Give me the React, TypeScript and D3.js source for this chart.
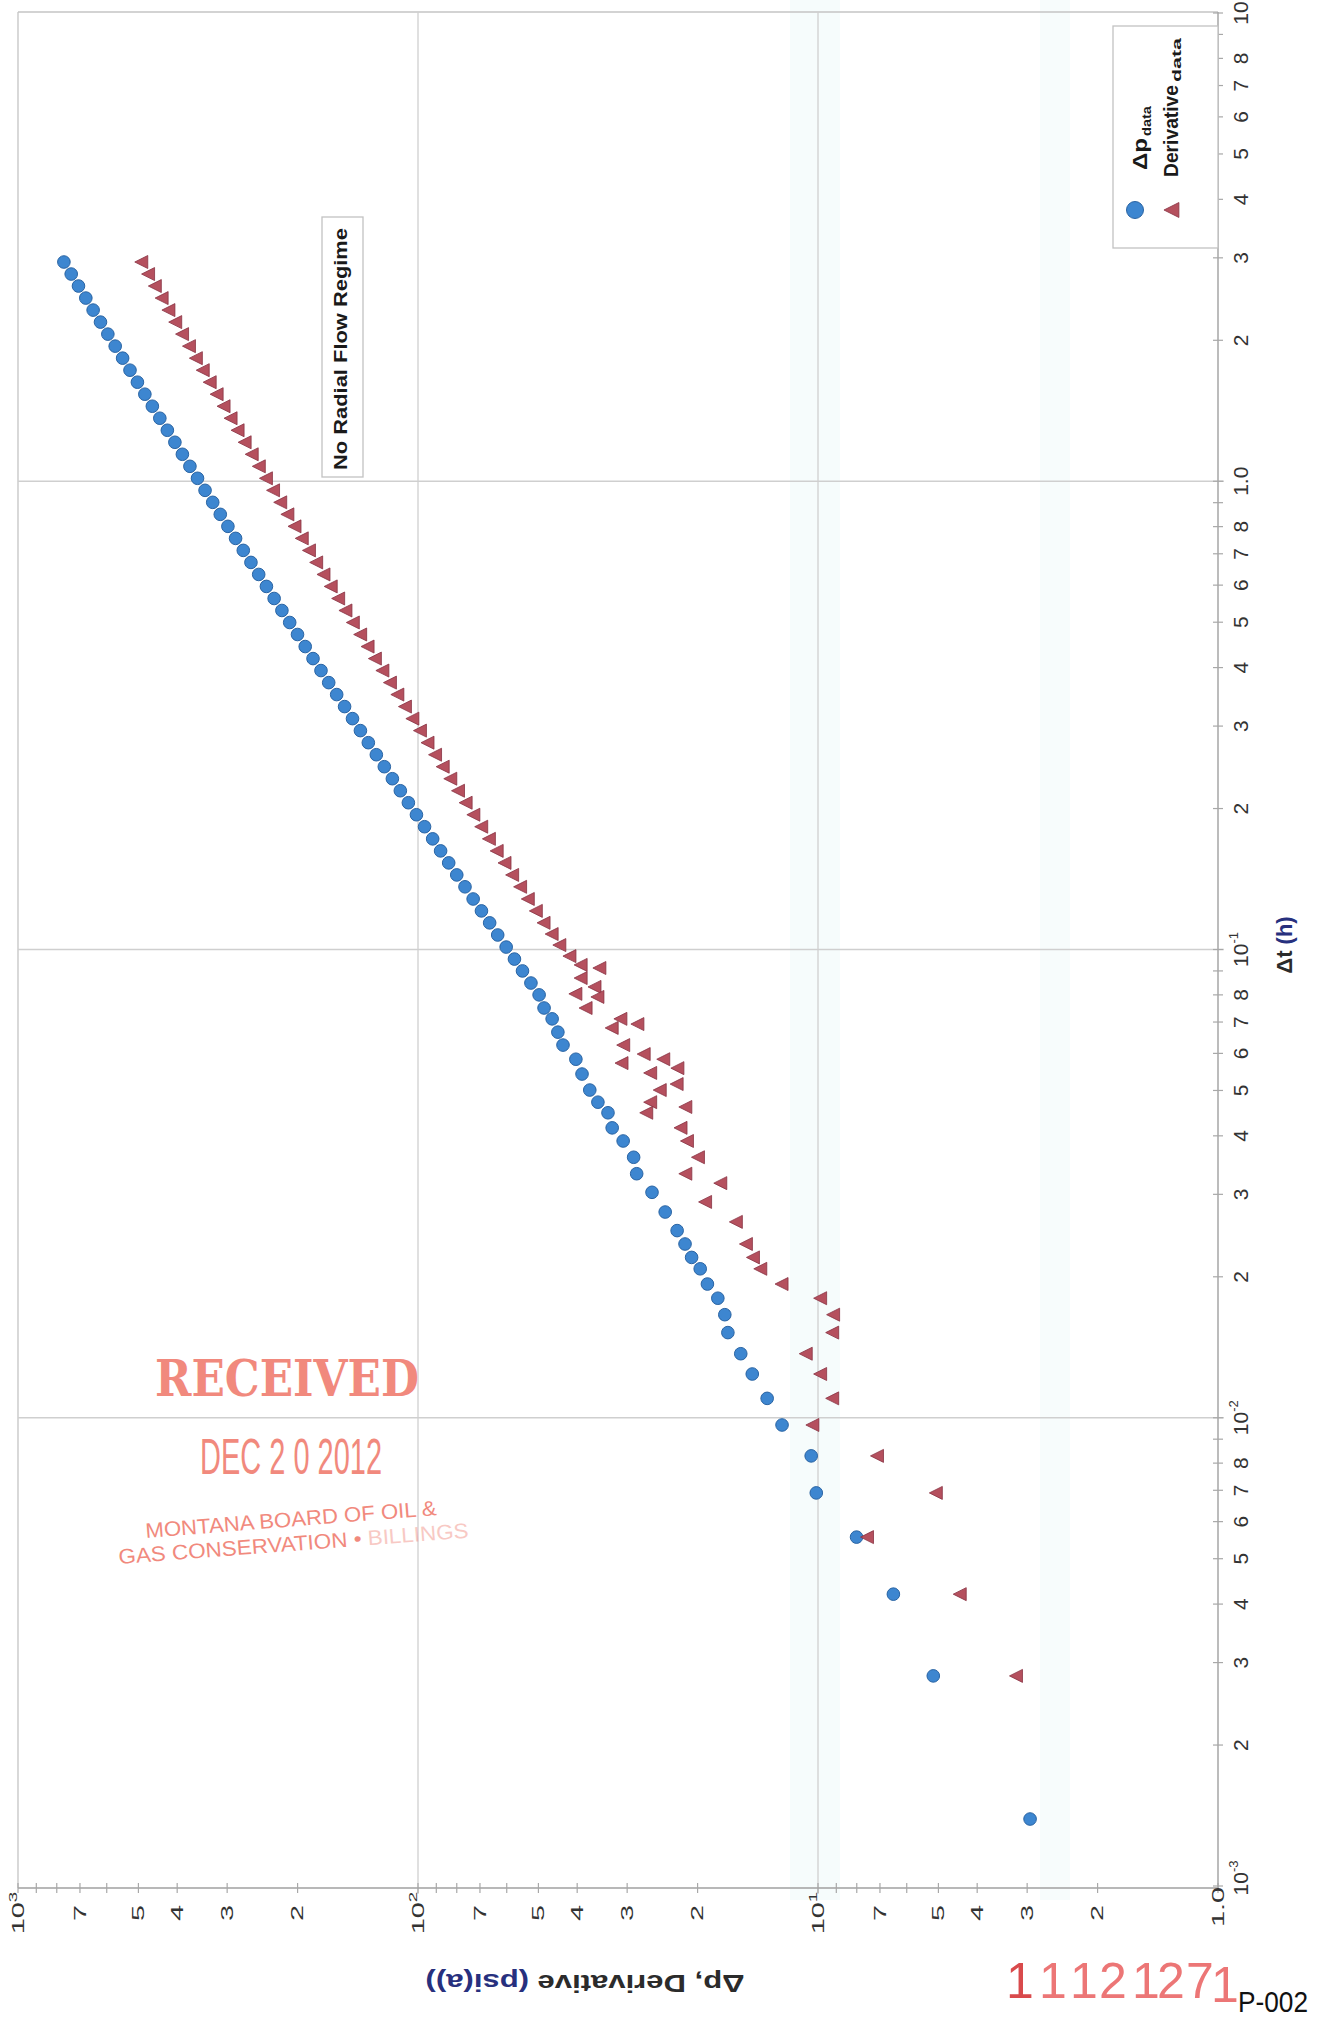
import React from "react";
import * as d3 from "d3";

// ---------- data ----------
// Δp data: elapsed time (h) and pressure change (psi)
const dpTime = [
  0.00139, 0.00281, 0.0042, 0.00556, 0.00691, 0.00829, 0.00965, 0.011, 0.0124, 0.0137,
  0.0152, 0.0166, 0.018, 0.0193, 0.0208, 0.022, 0.0235, 0.0251, 0.0275, 0.0303,
  0.0332, 0.036, 0.039, 0.0416, 0.0448, 0.0472, 0.0501, 0.0542, 0.0583, 0.0625,
  0.0666, 0.0711, 0.075,
  0.08, 0.0848, 0.09, 0.0954, 0.1012, 0.1074,
  0.114, 0.1209, 0.1282, 0.1361, 0.1443, 0.1531, 0.1624, 0.1723, 0.1829, 0.194,
  0.2058, 0.2183, 0.2316, 0.2457, 0.2606, 0.2765, 0.2934, 0.3112, 0.3302, 0.3503,
  0.3715, 0.3942, 0.4181, 0.4436, 0.4707, 0.4993, 0.5297, 0.5619, 0.5962, 0.6324,
  0.6709, 0.7118, 0.7551, 0.8011, 0.8498, 0.9015, 0.9563, 1.0146, 1.0762, 1.1418,
  1.2113, 1.285, 1.3633, 1.4462, 1.5343, 1.6276, 1.7266, 1.8318, 1.9434, 2.0616,
  2.1871, 2.3202, 2.4615, 2.6115, 2.7701, 2.939,
];
const dpValue = [
  2.95, 5.15, 6.48, 8.01, 10.1, 10.4, 12.3, 13.4, 14.6, 15.6,
  16.8, 17.1, 17.8, 18.9, 19.7, 20.7, 21.5, 22.5, 24.1, 26.0,
  28.4, 28.9, 30.7, 32.7, 33.5, 35.5, 37.2, 38.9, 40.3, 43.4,
  44.7, 46.2, 48.4,
  49.8, 52.2, 54.8, 57.4, 60.2, 63.2,
  66.2, 69.4, 72.8, 76.3, 80.0, 83.8, 87.8, 91.9, 96.3, 100.9,
  105.7, 110.7, 115.9, 121.4, 127.1, 133.1, 139.3, 145.8, 152.6, 159.7,
  167.2, 174.8, 183.0, 191.4, 200.1, 209.3, 218.9, 228.9, 239.3, 250.2,
  261.6, 273.4, 285.8, 298.7, 312.1, 326.0, 340.7, 355.8, 371.7, 388.2,
  405.3, 423.3, 442.0, 461.5, 481.8, 502.9, 524.8, 547.6, 571.5, 596.2,
  622.0, 648.9, 676.8, 706.0, 736.2, 767.8,
];

// Derivative data: elapsed time (h) and derivative (psi)
const derTime = [
  0.1079, 0.1022, 0.0968, 0.0927, 0.0913, 0.0869, 0.0832, 0.0804, 0.0792, 0.075,
  0.0711, 0.068, 0.0693, 0.0625, 0.0572, 0.0598, 0.0583, 0.0558, 0.0545, 0.0516,
  0.0501, 0.0472, 0.0461, 0.0448, 0.0416, 0.039, 0.036, 0.0332, 0.0317, 0.0289,
  0.0262, 0.0235, 0.022, 0.0208, 0.0193, 0.018, 0.0166, 0.0152, 0.0137, 0.0124,
  0.011, 0.00965, 0.00829, 0.00691, 0.00556, 0.0042, 0.00281,
  0.114, 0.1209, 0.1282, 0.1361, 0.1443, 0.1531, 0.1624, 0.1723, 0.1829, 0.194,
  0.2058, 0.2183, 0.2316, 0.2457, 0.2606, 0.2765, 0.2934, 0.3112, 0.3302, 0.3503,
  0.3715, 0.3942, 0.4181, 0.4436, 0.4707, 0.4993, 0.5297, 0.5619, 0.5962, 0.6324,
  0.6709, 0.7118, 0.7551, 0.8011, 0.8498, 0.9015, 0.9563, 1.0146, 1.0762, 1.1418,
  1.2113, 1.285, 1.3633, 1.4462, 1.5343, 1.6276, 1.7266, 1.8318, 1.9434, 2.0616,
  2.1871, 2.3202, 2.4615, 2.6115, 2.7701, 2.939,
];
const derValue = [
  46.2, 44.2, 41.7, 39.1, 35.1, 39.1, 36.1, 40.3, 35.5, 38.0,
  31.1, 32.7, 28.2, 30.6, 30.9, 27.2, 24.3, 22.4, 26.2, 22.5,
  24.8, 26.2, 21.4, 26.8, 22.0, 21.2, 19.9, 21.4, 17.5, 19.1,
  16.0, 15.1, 14.5, 13.9, 12.3, 9.85, 9.14, 9.19, 10.7, 9.85,
  9.19, 10.3, 7.1, 5.06, 7.52, 4.41, 3.19,
  48.4, 50.6, 53.0, 55.4, 58.0, 60.6, 63.4, 66.3, 69.3, 72.5,
  75.8, 79.2, 82.8, 86.5, 90.4, 94.4, 98.6, 103.0, 107.5, 112.3,
  117.2, 122.4, 127.8, 133.3, 139.1, 145.1, 151.4, 157.9, 164.8, 171.8,
  179.2, 186.8, 194.7, 203.0, 211.5, 220.4, 229.7, 239.3, 249.3, 259.7,
  270.5, 281.7, 293.3, 305.4, 317.8, 330.8, 344.3, 358.2, 372.7, 387.8,
  403.4, 419.5, 436.2, 453.6, 471.6, 490.4,
];

// tick labels: [value, main text, superscript]
const dpTickLabels: [number, string, string][] = [
  [1000, "10", "3"], [700, "7", ""], [500, "5", ""], [400, "4", ""], [300, "3", ""], [200, "2", ""],
  [100, "10", "2"], [70, "7", ""], [50, "5", ""], [40, "4", ""], [30, "3", ""], [20, "2", ""],
  [10, "10", "1"], [7, "7", ""], [5, "5", ""], [4, "4", ""], [3, "3", ""], [2, "2", ""],
  [1, "1.0", ""],
];
const dtTickLabels: [number, string, string][] = [
  [10, "10", ""], [8, "8", ""], [7, "7", ""], [6, "6", ""], [5, "5", ""], [4, "4", ""], [3, "3", ""], [2, "2", ""],
  [1, "1.0", ""], [0.8, "8", ""], [0.7, "7", ""], [0.6, "6", ""], [0.5, "5", ""], [0.4, "4", ""], [0.3, "3", ""], [0.2, "2", ""],
  [0.1, "10", "-1"], [0.08, "8", ""], [0.07, "7", ""], [0.06, "6", ""], [0.05, "5", ""], [0.04, "4", ""], [0.03, "3", ""], [0.02, "2", ""],
  [0.01, "10", "-2"], [0.008, "8", ""], [0.007, "7", ""], [0.006, "6", ""], [0.005, "5", ""], [0.004, "4", ""], [0.003, "3", ""], [0.002, "2", ""],
  [0.001, "10", "-3"],
];
const dpGrid = [100, 10];
const dtGrid = [1, 0.1, 0.01];

const legendItems = ["Δp", "Derivative"];
const docNumber = "11121271";

// ---------- layout ----------
const W = 1319;
const H = 2021;
const PX0 = 18;
const PX1 = 1218;
const PY0 = 1886;
const PY1 = 13;
const FONT = "'Liberation Sans', Arial, Helvetica, sans-serif";
const NARROW = "'Liberation Sans Narrow', 'Liberation Sans', sans-serif";

const BLUE = "#3d86d0";
const BLUE_EDGE = "#2a64a3";
const RED = "#b5505e";
const RED_EDGE = "#883243";
const STAMP = "#f07d70";

export default function App() {
  const x = d3.scaleLog().domain([1000, 1]).range([PX0, PX1]);
  const y = d3.scaleLog().domain([0.001, 10]).range([PY0, PY1]);
  const xTicks = x.ticks();
  const yTicks = y.ticks();
  const tri = (cx: number, cy: number, s = 1) =>
    `M${cx - 7 * s},${cy} L${cx + 6 * s},${cy - 6.5 * s} L${cx + 6 * s},${cy + 6.5 * s} Z`;

  const axisY = 1888;
  const axisX = PX1;
  const docX = [1006, 1039, 1070, 1099, 1132, 1157, 1186, 1211];

  return (
    <svg
      width={W}
      height={H}
      viewBox={`0 0 ${W} ${H}`}
      style={{ position: "absolute", left: 0, top: 0, background: "#ffffff" }}
      fontFamily={FONT}
    >
      <rect x={0} y={0} width={W} height={H} fill="#ffffff" />
      {/* faint scan bands */}
      <rect x={790} y={0} width={50} height={1900} fill="#f6fcfc" />
      <rect x={1040} y={0} width={30} height={1900} fill="#f7fcfc" />

      {/* frame */}
      <line x1={PX0} y1={12} x2={PX1} y2={12} stroke="#c4c4c4" strokeWidth={1.3} />
      <line x1={PX0} y1={12} x2={PX0} y2={axisY} stroke="#c4c4c4" strokeWidth={1.3} />

      {/* grid */}
      {dpGrid.map((v) => (
        <line key={"gx" + v} x1={x(v)} y1={12} x2={x(v)} y2={axisY + 6} stroke="#cfcfcf" strokeWidth={1.3} />
      ))}
      {dtGrid.map((v) => (
        <line key={"gy" + v} x1={PX0} y1={y(v)} x2={axisX + 6} y2={y(v)} stroke="#cfcfcf" strokeWidth={1.3} />
      ))}

      {/* axes */}
      <line x1={PX0} y1={axisY} x2={axisX} y2={axisY} stroke="#a0a0a0" strokeWidth={1.4} />
      <line x1={axisX} y1={12} x2={axisX} y2={axisY} stroke="#a0a0a0" strokeWidth={1.4} />
      {xTicks.map((v, i) => (
        <line key={"tx" + i} x1={x(v)} y1={axisY - 5} x2={x(v)} y2={axisY + 5} stroke="#a8a8a8" strokeWidth={1.2} />
      ))}
      {yTicks.map((v, i) => (
        <line key={"ty" + i} x1={axisX - 5} y1={y(v)} x2={axisX + 5} y2={y(v)} stroke="#a8a8a8" strokeWidth={1.2} />
      ))}

      {/* bottom tick labels (Δp) */}
      {dpTickLabels.map(([v, m, s], i) => (
        <text
          key={"lx" + i}
          transform={`translate(${x(v)},${v === 1 ? 1907 : 1913}) rotate(-90) scale(1.7,1)`}
          textAnchor="middle"
          dominantBaseline="central"
          fontSize={17}
          fill="#333"
        >
          {m}
          {s ? (
            <tspan dy={-5} fontSize={11}>
              {s}
            </tspan>
          ) : null}
        </text>
      ))}

      {/* right tick labels (Δt) */}
      {dtTickLabels.map(([v, m, s], i) => (
        <text
          key={"ly" + i}
          transform={`translate(1240,${v === 0.001 ? y(v) - 8 : y(v)}) rotate(-90)`}
          textAnchor="middle"
          dominantBaseline="central"
          fontSize={21}
          fill="#333"
        >
          {m}
          {s ? (
            <tspan dy={-7} fontSize={13}>
              {s}
            </tspan>
          ) : null}
        </text>
      ))}

      {/* axis titles */}
      <text
        transform="translate(1284,945) rotate(-90)"
        textAnchor="middle"
        dominantBaseline="central"
        fontSize={22}
        fontWeight="bold"
        fill="#2b2b2b"
      >
        Δt <tspan fill="#27307e">(h)</tspan>
      </text>
      <text
        transform="translate(585,1983) rotate(180)"
        textAnchor="middle"
        dominantBaseline="central"
        fontSize={24}
        fontWeight="bold"
        fill="#2b2b2b"
        textLength={319}
        lengthAdjust="spacingAndGlyphs"
      >
        Δp, Derivative <tspan fill="#27307e">(psi(a))</tspan>
      </text>

      {/* annotation box */}
      <rect x={322} y={217} width={41} height={260} fill="#ffffff" stroke="#c2c2c2" strokeWidth={1.3} />
      <text
        transform="translate(347,470) rotate(-90)"
        textAnchor="start"
        fontSize={19}
        fontWeight="bold"
        fill="#1a1a1a"
        textLength={242}
        lengthAdjust="spacingAndGlyphs"
      >
        No Radial Flow Regime
      </text>

      {/* legend */}
      <rect x={1113} y={26} width={PX1 - 1113} height={222} fill="#ffffff" stroke="#c2c2c2" strokeWidth={1.3} />
      <circle cx={1135} cy={210} r={8.5} fill={BLUE} stroke={BLUE_EDGE} strokeWidth={1} />
      <path d={tri(1172, 210, 1.15)} fill={RED} stroke={RED_EDGE} strokeWidth={0.8} />
      <text transform="translate(1147,170) rotate(-90)" fontSize={21} fontWeight="bold" fill="#1a1a1a" textLength={32} lengthAdjust="spacingAndGlyphs">
        {legendItems[0]}
      </text>
      <text transform="translate(1151,136) rotate(-90)" fontSize={12} fontWeight="bold" fill="#1a1a1a" textLength={30} lengthAdjust="spacingAndGlyphs">
        data
      </text>
      <text transform="translate(1178,177) rotate(-90)" fontSize={20} fontWeight="bold" fill="#1a1a1a" textLength={92} lengthAdjust="spacingAndGlyphs">
        {legendItems[1]}
      </text>
      <text transform="translate(1181,82) rotate(-90)" fontSize={12} fontWeight="bold" fill="#1a1a1a" textLength={44} lengthAdjust="spacingAndGlyphs">
        data
      </text>

      {/* data */}
      {dpTime.map((t, i) => (
        <circle key={"p" + i} cx={x(dpValue[i])} cy={y(t)} r={6.3} fill={BLUE} stroke={BLUE_EDGE} strokeWidth={1} />
      ))}
      {derTime.map((t, i) => (
        <path key={"d" + i} d={tri(x(derValue[i]), y(t))} fill={RED} stroke={RED_EDGE} strokeWidth={0.8} />
      ))}

      {/* received stamp */}
      <g fill={STAMP} opacity={0.9}>
        <text x={155} y={1396} fontFamily="'DejaVu Serif', serif" fontWeight="bold" fontSize={50} textLength={264} lengthAdjust="spacingAndGlyphs">
          RECEIVED
        </text>
        <text x={200} y={1474} fontFamily={NARROW} fontSize={50} textLength={182} lengthAdjust="spacingAndGlyphs">
          DEC 2 0 2012
        </text>
        <text transform="translate(146,1538) rotate(-4.5)" fontSize={21} textLength={292} lengthAdjust="spacingAndGlyphs">
          MONTANA BOARD OF OIL &amp;
        </text>
        <text transform="translate(119,1564) rotate(-4.3)" fontSize={21} textLength={351} lengthAdjust="spacingAndGlyphs">
          GAS CONSERVATION • <tspan opacity={0.45}>BILLINGS</tspan>
        </text>
      </g>

      {/* document number */}
      <text fontFamily={NARROW} fontSize={50} fill="#ec7676">
        {docNumber.split("").map((c, i) => (
          <tspan
            key={"dn" + i}
            x={docX[i]}
            y={i === docNumber.length - 1 ? 2002 : 1998}
            fill={i === 0 ? "#d94a4c" : "#ec7676"}
          >
            {c}
          </tspan>
        ))}
      </text>
      <text x={1238} y={2012} fontSize={30} fill="#111" textLength={70} lengthAdjust="spacingAndGlyphs">
        P-002
      </text>
    </svg>
  );
}
